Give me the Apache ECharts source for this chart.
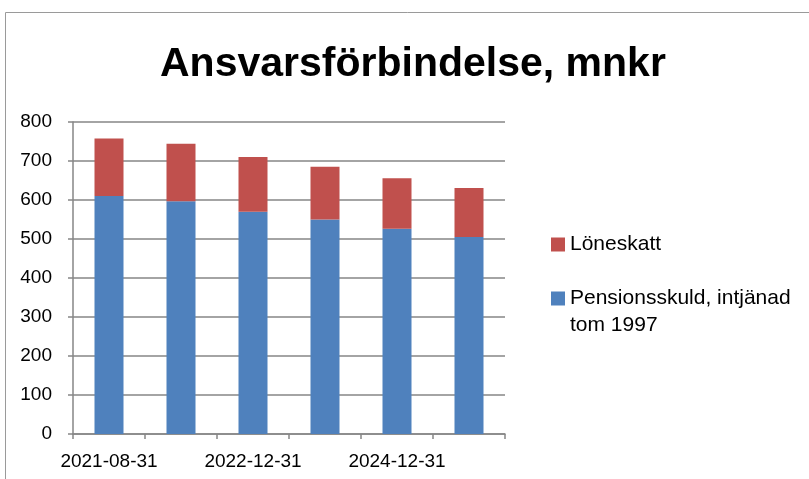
<!DOCTYPE html>
<html>
<head>
<meta charset="utf-8">
<script src="https://cdn.jsdelivr.net/npm/echarts@6/dist/echarts.min.js"></script>
<style>
html,body{margin:0;padding:0;background:#fff;}
#c{width:809px;height:479px;}
</style>
</head>
<body>
<div id="c"></div>
<script>
const categories = ['2021-08-31', '2021-12-31', '2022-12-31', '2023-12-31', '2024-12-31', '2025-12-31'];
const pensionsskuld = [610, 597, 570, 550, 526, 505];
const loneskatt = [148, 147, 140, 135, 130, 126];
const yTicks = { min: 0, max: 800, interval: 100 };
const titleText = 'Ansvarsförbindelse, mnkr';
const nameLoneskatt = 'Löneskatt';
const namePension = 'Pensionsskuld, intjänad\ntom 1997';

const FONT = 'Liberation Sans';
const chart = echarts.init(document.getElementById('c'), null, { renderer: 'canvas' });
chart.setOption({
  backgroundColor: '#ffffff',
  animation: false,
  graphic: [{
    type: 'rect', silent: true,
    shape: { x: 5.5, y: 12.5, width: 900, height: 600 },
    style: { fill: 'none', stroke: '#9a9a9a', lineWidth: 1 }
  }],
  title: {
    text: titleText,
    left: 160, top: 44, padding: 0,
    textStyle: { fontFamily: FONT, fontWeight: 'bold', fontSize: 41, color: '#000' }
  },
  legend: [{
    data: [nameLoneskatt],
    orient: 'vertical', left: 551, top: 234, padding: 0,
    itemWidth: 14, itemHeight: 14, icon: 'rect',
    textStyle: { fontFamily: FONT, fontSize: 21, color: '#000', lineHeight: 14 }
  }, {
    data: [namePension],
    formatter: function (n) { return '\n' + n; },
    orient: 'vertical', left: 551, top: 258, padding: 0,
    itemWidth: 14, itemHeight: 14, icon: 'rect',
    textStyle: { fontFamily: FONT, fontSize: 21, color: '#000', lineHeight: 27 }
  }],
  grid: { left: 73, right: 304, top: 122, bottom: 45, containLabel: false },
  xAxis: {
    type: 'category', data: categories, boundaryGap: true,
    axisLine: { lineStyle: { color: '#868686', width: 1.5 } },
    axisTick: { show: true, interval: 0, alignWithLabel: false, length: 5, lineStyle: { color: '#868686', width: 1.5 } },
    axisLabel: { interval: 1, color: '#000', fontFamily: FONT, fontSize: 19, margin: 18 },
    splitLine: { show: false }
  },
  yAxis: {
    type: 'value', min: yTicks.min, max: yTicks.max, interval: yTicks.interval,
    axisLine: { show: true, lineStyle: { color: '#868686', width: 1.5 } },
    axisTick: { show: true, length: 5, lineStyle: { color: '#868686', width: 1.5 } },
    axisLabel: { color: '#000', fontFamily: FONT, fontSize: 19, margin: 21 },
    splitLine: { show: true, lineStyle: { color: '#868686', width: 1.5 } }
  },
  series: [{
    name: namePension, type: 'bar', stack: 'total', barWidth: 29,
    data: pensionsskuld, itemStyle: { color: '#4F81BD' }
  }, {
    name: nameLoneskatt, type: 'bar', stack: 'total', barWidth: 29,
    data: loneskatt, itemStyle: { color: '#C0504D' }
  }]
});
</script>
</body>
</html>
